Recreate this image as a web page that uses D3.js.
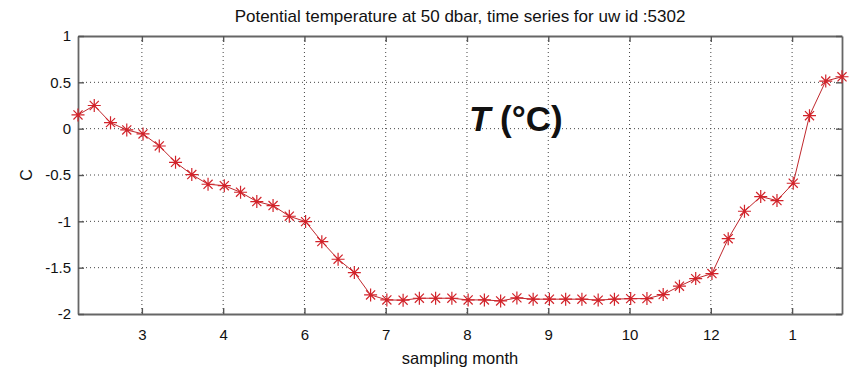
<!DOCTYPE html>
<html lang="en">
<head>
<meta charset="UTF-8">
<title>Potential temperature time series</title>
<script src="https://cdn.jsdelivr.net/npm/d3@7"></script>
<style>
  body { margin: 0; background: #fff; }
  text { font-family: "Liberation Sans", Arial, sans-serif; fill: #111; }
</style>
</head>
<body>
<div id="container"></div>
<script>
// Sample values (one sample every ~8 days)
var temps = [0.148, 0.25, 0.065, -0.014, -0.057, -0.187, -0.363, -0.495, -0.60, -0.615,
             -0.686, -0.787, -0.83, -0.945, -1.003, -1.219, -1.409, -1.553, -1.794, -1.848,
             -1.851, -1.83, -1.83, -1.83, -1.848, -1.848, -1.859, -1.826, -1.84, -1.84,
             -1.84, -1.84, -1.85, -1.84, -1.834, -1.834, -1.79, -1.70, -1.618, -1.564,
             -1.187, -0.891, -0.733, -0.776, -0.589, 0.14, 0.514, 0.56];
var xTickPos = [3.93, 8.93, 13.93, 18.93, 23.93, 28.93, 33.93, 38.93, 43.93];
var xTickLabels = ["3", "4", "6", "7", "8", "9", "10", "12", "1"];
var yTicks = [1, 0.5, 0, -0.5, -1, -1.5, -2];

var W = 850, H = 372;
var margin = { top: 36, right: 8, bottom: 58, left: 78 };
var width = W - margin.left - margin.right;
var height = H - margin.top - margin.bottom;

var svg = d3.select("#container").append("svg")
    .attr("width", W)
    .attr("height", H);

var g = svg.append("g")
    .attr("transform", "translate(" + margin.left + "," + margin.top + ")");

var x = d3.scaleLinear().domain([0, temps.length - 1]).range([0, width]);
var y = d3.scaleLinear().domain([-2, 1]).range([height, 0]);

// dotted grid
g.selectAll(".vgrid").data(xTickPos).enter().append("line")
    .attr("x1", d => x(d)).attr("x2", d => x(d))
    .attr("y1", 0).attr("y2", height)
    .attr("stroke", "#444").attr("stroke-width", 1)
    .attr("stroke-dasharray", "1,3");

g.selectAll(".hgrid").data(yTicks.filter(d => d > -2 && d < 1)).enter().append("line")
    .attr("x1", 0).attr("x2", width)
    .attr("y1", d => y(d)).attr("y2", d => y(d))
    .attr("stroke", "#444").attr("stroke-width", 1)
    .attr("stroke-dasharray", "1,3");

// axes (ticks pointing inward, MATLAB style)
var fmtX = (d, i) => xTickLabels[i];
var fmtY = d => String(d);   // plain hyphen minus, like the original
var bottomAxis = d3.axisBottom(x).tickValues(xTickPos).tickFormat(fmtX).tickSizeInner(-6).tickSizeOuter(0).tickPadding(15);
var topAxis = d3.axisTop(x).tickValues(xTickPos).tickFormat("").tickSizeInner(-6).tickSizeOuter(0);
var leftAxis = d3.axisLeft(y).tickValues(yTicks).tickFormat(fmtY).tickSizeInner(-6).tickSizeOuter(0).tickPadding(7);
var rightAxis = d3.axisRight(y).tickValues(yTicks).tickFormat("").tickSizeInner(-6).tickSizeOuter(0);

function style(sel) {
    sel.selectAll("path").attr("stroke", "#666").attr("stroke-width", 1.8);
    sel.selectAll("line").attr("stroke", "#555").attr("stroke-width", 1.4);
    sel.selectAll("text").style("font-size", "15px").attr("fill", "#111");
}

g.append("g").attr("transform", "translate(0," + height + ")").call(bottomAxis).call(style);
g.append("g").call(topAxis).call(style);
g.append("g").call(leftAxis).call(style);
g.append("g").attr("transform", "translate(" + width + ",0)").call(rightAxis).call(style);

// data line
var line = d3.line().x((d, i) => x(i)).y(d => y(d));
g.append("path")
    .datum(temps)
    .attr("fill", "none")
    .attr("stroke", "#c0282d")
    .attr("stroke-width", 1)
    .attr("d", line);

// asterisk markers
var r = 6.5;
var star = "M" + (-r) + ",0H" + r + "M0," + (-r) + "V" + r +
           "M" + (-r * 0.7) + "," + (-r * 0.7) + "L" + (r * 0.7) + "," + (r * 0.7) +
           "M" + (-r * 0.7) + "," + (r * 0.7) + "L" + (r * 0.7) + "," + (-r * 0.7);
g.selectAll(".mk").data(temps).enter().append("path")
    .attr("transform", (d, i) => "translate(" + x(i) + "," + y(d) + ")")
    .attr("d", star)
    .attr("fill", "none")
    .attr("stroke", "#d2232a")
    .attr("stroke-width", 1.2);

// titles
svg.append("text")
    .attr("x", margin.left + width / 2)
    .attr("y", 22)
    .attr("text-anchor", "middle")
    .style("font-size", "17px")
    .text("Potential temperature at 50 dbar, time series for uw id :5302");

svg.append("text")
    .attr("x", margin.left + width / 2)
    .attr("y", 364)
    .attr("text-anchor", "middle")
    .style("font-size", "16.5px")
    .text("sampling month");

svg.append("text")
    .attr("transform", "translate(32," + (margin.top + height / 2) + ") rotate(-90)")
    .attr("text-anchor", "middle")
    .style("font-size", "16px")
    .text("C");

// big annotation
var ann = svg.append("text")
    .attr("x", 469)
    .attr("y", 131)
    .style("font-size", "35px")
    .style("font-weight", "bold");
ann.append("tspan").style("font-style", "italic").text("T");
ann.append("tspan").text(" (°C)");
</script>
</body>
</html>
